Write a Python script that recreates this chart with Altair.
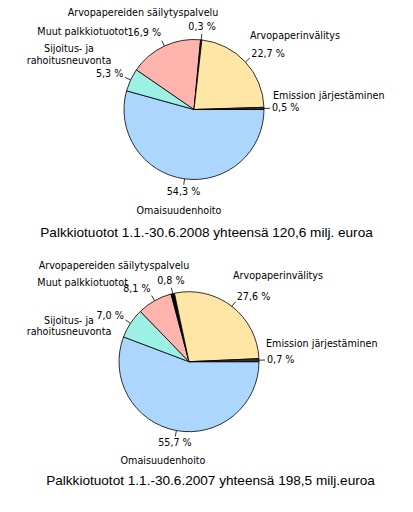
import math
import altair as alt
import pandas as pd

# ---- data ----
categories = [
    "Omaisuudenhoito",
    "Sijoitus- ja rahoitusneuvonta",
    "Muut palkkiotuotot",
    "Arvopapereiden säilytyspalvelu",
    "Arvopaperinvälitys",
    "Emission järjestäminen",
]
share_2008 = [54.3, 5.3, 16.9, 0.3, 22.7, 0.5]
share_2007 = [55.7, 7.0, 8.1, 0.8, 27.6, 0.7]
title_2008 = "Palkkiotuotot 1.1.-30.6.2008 yhteensä 120,6 milj. euroa"
title_2007 = "Palkkiotuotot 1.1.-30.6.2007 yhteensä 198,5 milj.euroa"
display_lines = {
    "Sijoitus- ja rahoitusneuvonta": ["Sijoitus- ja", "rahoitusneuvonta"],
}

# ---- style / layout ----
colors = ["#ADD6FF", "#9CF0E4", "#FFB5AD", "#000000", "#FFE6A6", "#333333"]
W, H = 397, 496
LFONT = "DejaVu Sans"
LSIZE = 9.6
TFONT = "Liberation Sans"
TSIZE = 13.6
R = 70

# category label anchors (layout): (x, y, align); multi-line labels step down by LINE px
LINE = 11.5
cat_pos_2008 = {
    "Omaisuudenhoito": (171, 203, "center"),
    "Sijoitus- ja rahoitusneuvonta": (61, 41, "center"),
    "Muut palkkiotuotot": (120, 24, "right"),
    "Arvopapereiden säilytyspalvelu": (135, 4.5, "center"),
    "Arvopaperinvälitys": (242, 28, "left"),
    "Emission järjestäminen": (265, 88, "left"),
}
cat_pos_2007 = {
    "Omaisuudenhoito": (155, 453, "center"),
    "Sijoitus- ja rahoitusneuvonta": (61, 312.5, "center"),
    "Muut palkkiotuotot": (120, 275, "right"),
    "Arvopapereiden säilytyspalvelu": (106, 258, "center"),
    "Arvopaperinvälitys": (225, 268, "left"),
    "Emission järjestäminen": (258, 336, "left"),
}

xs = alt.Scale(domain=[0, W], nice=False, zero=False)
ys = alt.Scale(domain=[H, 0], nice=False, zero=False)


def fmt(v):
    return f"{v:.1f}".replace(".", ",") + " %"


def pie(values, cx, cy, cat_pos, title, tx, ty):
    df = pd.DataFrame({"cat": categories, "share": values, "idx": list(range(len(values)))})
    layers = [
        alt.Chart(df).mark_arc(outerRadius=R, stroke="black", strokeWidth=0.8).encode(
            theta=alt.Theta("share:Q", stack="normalize",
                            scale=alt.Scale(domain=[0, 1], range=[math.pi / 2, math.pi / 2 + 2 * math.pi])),
            order=alt.Order("idx:Q"),
            color=alt.Color("cat:N", scale=alt.Scale(domain=categories, range=colors), legend=None),
            x=alt.value(cx),
            y=alt.value(cy),
        )
    ]
    total = sum(values)
    rows = []
    cum = 0.0
    for c, v in zip(categories, values):
        a = (cum + v / 2) / total * 2 * math.pi
        cum += v
        ca, sa = math.cos(a), math.sin(a)
        if ca > 0.35:
            al, bl, rx, ry = "left", "middle", R + 8, R + 12
        elif ca < -0.35:
            al, bl, rx, ry = "right", "middle", R + 8, R + 14
        else:
            al, bl, rx, ry = "center", ("bottom" if sa < 0 else "top"), R + 8, R + 8
        rows.append(dict(
            x0=cx + R * ca, y0=cy + R * sa,
            x1=cx + (R + 6) * ca, y1=cy + (R + 6) * sa,
            lx=cx + rx * ca, ly=cy + ry * sa,
            text=fmt(v), align=al, baseline=bl,
        ))
    ldf = pd.DataFrame(rows)
    layers.append(
        alt.Chart(ldf).mark_rule(color="black", strokeWidth=0.8).encode(
            x=alt.X("x0:Q", scale=xs, axis=None), y=alt.Y("y0:Q", scale=ys, axis=None),
            x2="x1:Q", y2="y1:Q",
        )
    )
    for (al, bl), g in ldf.groupby(["align", "baseline"]):
        layers.append(
            alt.Chart(g).mark_text(align=al, baseline=bl, font=LFONT, fontSize=LSIZE, color="black").encode(
                x=alt.X("lx:Q", scale=xs, axis=None), y=alt.Y("ly:Q", scale=ys, axis=None), text="text:N",
            )
        )
    crow = []
    for c, p in cat_pos.items():
        for k, line in enumerate(display_lines.get(c, [c])):
            crow.append(dict(x=p[0], y=p[1] + k * LINE, al=p[2], text=line))
    cdf = pd.DataFrame(crow)
    for al, g in cdf.groupby("al"):
        layers.append(
            alt.Chart(g).mark_text(align=al, baseline="middle", font=LFONT, fontSize=LSIZE, color="black").encode(
                x=alt.X("x:Q", scale=xs, axis=None), y=alt.Y("y:Q", scale=ys, axis=None), text="text:N",
            )
        )
    tdf = pd.DataFrame({"x": [tx], "y": [ty], "text": [title]})
    layers.append(
        alt.Chart(tdf).mark_text(align="center", baseline="middle", font=TFONT, fontSize=TSIZE, color="black").encode(
            x=alt.X("x:Q", scale=xs, axis=None), y=alt.Y("y:Q", scale=ys, axis=None), text="text:N",
        )
    )
    return layers


layers = pie(share_2008, 186, 101.5, cat_pos_2008, title_2008, 198.5, 225) + \
    pie(share_2007, 181, 353.7, cat_pos_2007, title_2007, 202.5, 473)

chart = alt.layer(*layers).properties(
    width=W, height=H, autosize=alt.AutoSizeParams(type="none"), padding=0, background="white"
).configure_view(stroke=None)

chart.save("out.html", embed_options={"renderer": "svg", "actions": False})
